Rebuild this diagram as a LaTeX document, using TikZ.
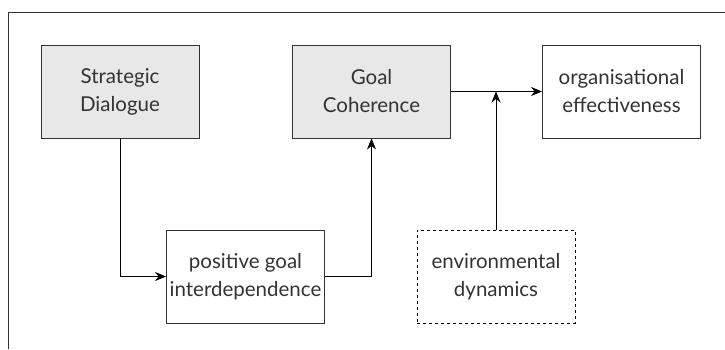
\documentclass[tikz,border=0pt]{standalone}
\usepackage{fontspec}
\setmainfont{Lato}
\usetikzlibrary{arrows.meta}
\definecolor{boxfill}{HTML}{E8E8E8}
\definecolor{inkgray}{HTML}{333333}
\tikzset{
  box/.style={draw=inkgray, line width=0.9pt, minimum width=158pt, minimum height=93pt,
    inner sep=0pt, align=center, text=inkgray,
    font=\fontsize{20.5}{28}\selectfont},
  keybox/.style={box, fill=boxfill},
  plainbox/.style={box, fill=white},
  envbox/.style={box, dashed, draw=black},
  link/.style={draw=black, line width=0.8pt, -{Stealth[length=11pt,width=9pt,inset=3.5pt]}},
  frame/.style={draw=inkgray, line width=0.9pt}
}
\begin{document}
\begin{tikzpicture}[x=1pt,y=-1pt]
  \useasboundingbox (0,0) rectangle (725,349);
  % outer frame (only top and left edges fall inside the page)
  \coordinate (ftr) at (725,12);
  \coordinate (ftl) at (8,12);
  \coordinate (fbl) at (8,349);
  \draw[frame] (ftr) -- (ftl) -- (fbl);

  \node[keybox]   (sd)  at (120,91.5)  {Strategic\\Dialogue};
  \node[keybox]   (gc)  at (371.5,91.5) {Goal\\Coherence};
  \node[plainbox] (oe)  at (621.5,91.5) {organisational\\effectiveness};
  \node[plainbox] (pgi) at (245.5,276.5) {positive goal\\interdependence};
  \node[envbox]   (ed)  at (496,276.5) {environmental\\dynamics};

  \draw[link] (sd.south) |- (pgi.west);
  \draw[link] (pgi.east) -| (gc.south);
  \draw[link] (gc.east) -- (oe.west);
  \draw[link] (ed.north) -- (ed.north |- gc.east);
\end{tikzpicture}
\end{document}
